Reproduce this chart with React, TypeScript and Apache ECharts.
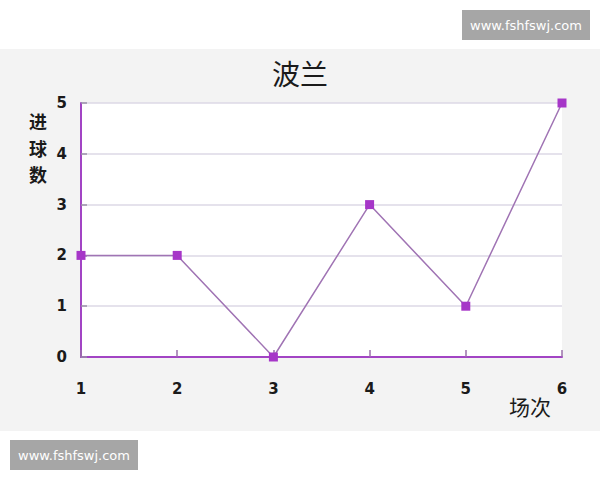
import { useEffect, useRef } from 'react'
import * as echarts from 'echarts'

// 场次 (match number) and 进球数 (goals scored)
const matches = [1, 2, 3, 4, 5, 6]
const goals = [2, 2, 0, 3, 1, 5]

const titleText = '波兰'
const xName = '场次'
const yName = '进球数'
const watermark = 'www.fshfswj.com'

function App() {
  const chartRef = useRef<HTMLDivElement>(null)

  useEffect(() => {
    const chart = echarts.init(chartRef.current, undefined, { renderer: 'svg' })

    const badge = (left: number, top: number) => ({
      type: 'group',
      left,
      top,
      children: [
        { type: 'rect', shape: { x: 0, y: 0, width: 128, height: 30 }, style: { fill: '#a6a6a6' } },
        {
          type: 'text',
          x: 64,
          y: 15,
          style: {
            text: watermark,
            fill: '#ffffff',
            font: '13px "DejaVu Sans"',
            align: 'center',
            verticalAlign: 'middle'
          }
        }
      ]
    })

    // vertical y-axis name, one glyph per text
    const yNameChars = yName.split('').map((ch, i) => ({
      type: 'text',
      x: 38,
      y: 121 + i * 26.5,
      style: {
        text: ch,
        fill: '#1a1a1a',
        font: 'bold 18px "Noto Sans CJK SC"',
        align: 'center',
        verticalAlign: 'middle'
      }
    }))

    const option = {
      animation: false,
      backgroundColor: '#ffffff',
      title: {
        text: titleText,
        left: 'center',
        top: 54,
        textStyle: {
          fontFamily: 'Noto Sans CJK SC',
          fontSize: 28,
          fontWeight: 'normal',
          color: '#1a1a1a'
        }
      },
      graphic: [
        {
          type: 'rect',
          z: -10,
          shape: { x: 0, y: 49, width: 600, height: 382 },
          style: { fill: '#f3f3f3' }
        },
        badge(462, 10),
        badge(10, 440),
        ...yNameChars,
        {
          type: 'text',
          x: 530,
          y: 406,
          style: {
            text: xName,
            fill: '#1a1a1a',
            font: '21px "Noto Sans CJK SC"',
            align: 'center',
            verticalAlign: 'middle'
          }
        }
      ],
      grid: {
        left: 81,
        right: 38,
        top: 103,
        bottom: 123,
        show: true,
        backgroundColor: '#ffffff',
        borderWidth: 0
      },
      xAxis: {
        type: 'value',
        min: 1,
        max: 6,
        interval: 1,
        axisLine: { lineStyle: { color: '#a244c4', width: 2 } },
        axisTick: { inside: true, length: 7, lineStyle: { color: '#9a70aa', width: 1.5 } },
        axisLabel: {
          margin: 24,
          color: '#1a1a1a',
          fontFamily: 'DejaVu Sans',
          fontWeight: 'bold',
          fontSize: 15
        },
        splitLine: { show: false }
      },
      yAxis: {
        type: 'value',
        min: 0,
        max: 5,
        interval: 1,
        axisLine: { show: true, lineStyle: { color: '#a244c4', width: 2 } },
        axisTick: { show: true, inside: true, length: 6, lineStyle: { color: '#9a90a8', width: 1.5 } },
        axisLabel: {
          margin: 14,
          color: '#1a1a1a',
          fontFamily: 'DejaVu Sans',
          fontWeight: 'bold',
          fontSize: 15,
          padding: [5, 0, 0, 0]
        },
        splitLine: { lineStyle: { color: '#dcd8e6', width: 1.5 } }
      },
      series: [
        {
          type: 'line',
          data: matches.map((m, i) => [m, goals[i]]),
          symbol: 'rect',
          symbolSize: 9,
          lineStyle: { color: '#a074b4', width: 1.5 },
          itemStyle: { color: '#a636c8' }
        }
      ]
    }

    chart.setOption(option)

    return () => {
      chart.dispose()
    }
  }, [])

  return (
    <div
      ref={chartRef}
      style={{ position: 'absolute', left: 0, top: 0, width: '600px', height: '480px' }}
    ></div>
  )
}

export default App
